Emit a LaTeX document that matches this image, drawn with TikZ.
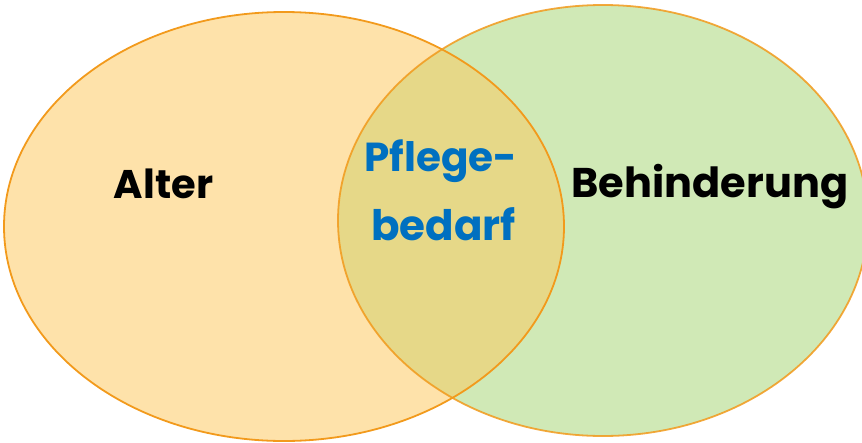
\documentclass[tikz,border=0pt]{standalone}
\usepackage{fontspec}
\setmainfont{Poppins}
\definecolor{ageFill}{HTML}{FEE2AA}
\definecolor{disFill}{HTML}{D0E9B6}
\definecolor{careFill}{HTML}{E6D888}
\definecolor{rimOrange}{HTML}{F29A1C}
\definecolor{careBlue}{HTML}{0070C0}
\tikzset{
  rim/.style={draw=rimOrange, line width=1.8pt},
  setlabel/.style={anchor=base, inner sep=0pt, font=\bfseries},
}
\begin{document}
\begin{tikzpicture}[x=1pt, y=-1pt]
\useasboundingbox (0,0) rectangle (862,442);
% the two sets
\fill[ageFill] (284,226.5) ellipse [x radius=280, y radius=214.5];
\fill[disFill] (603,220.5) ellipse [x radius=265, y radius=215.5];
% their intersection
\begin{scope}
  \clip (284,226.5) ellipse [x radius=280, y radius=214.5];
  \fill[careFill] (603,220.5) ellipse [x radius=265, y radius=215.5];
\end{scope}
\draw[rim] (284,226.5) ellipse [x radius=280, y radius=214.5];
\draw[rim, draw opacity=0.85] (603,220.5) ellipse [x radius=265, y radius=215.5];
% labels
\node[setlabel, font=\bfseries\fontsize{40}{42}\selectfont] (alter) at (163.5,198.5) {Alter};
\node[setlabel, font=\bfseries\fontsize{41.5}{44}\selectfont] (behinderung) at (710,197) {Behinderung};
\node[setlabel, text=careBlue, font=\bfseries\fontsize{40.5}{44}\selectfont] (pflege) at (441,171.5) {Pflege-};
\node[setlabel, text=careBlue, font=\bfseries\fontsize{42}{44}\selectfont] (bedarf) at (443.5,240) {bedarf};
\end{tikzpicture}
\end{document}
